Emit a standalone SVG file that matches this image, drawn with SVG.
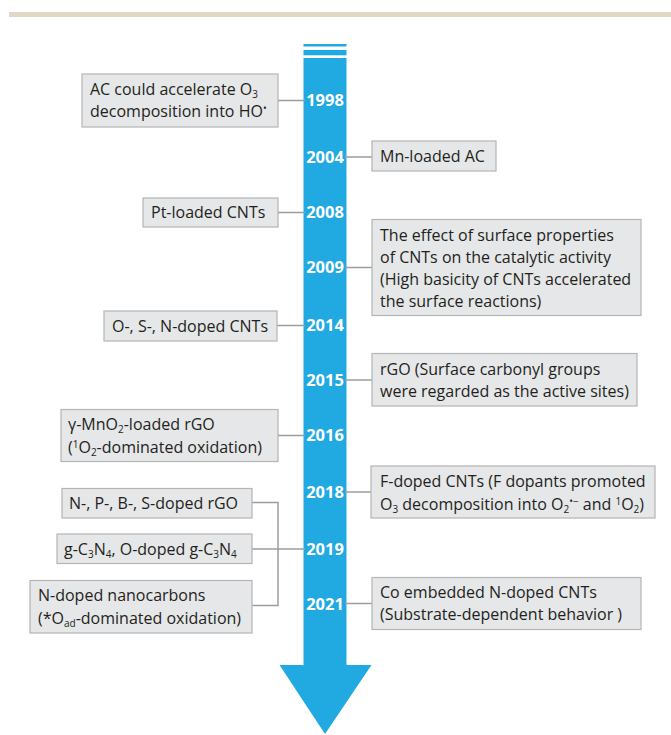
<svg xmlns="http://www.w3.org/2000/svg" width="671" height="735" viewBox="0 0 671 735">
<style>
.box{fill:#e6e7e8;stroke:#b5b5b5;stroke-width:1.2}
.t{font-family:"Open Sans","Noto Sans",sans-serif;font-size:16px;fill:#231f20}
.yr{font-family:"Open Sans","Noto Sans",sans-serif;font-size:16.5px;font-weight:bold;fill:#ffffff;text-anchor:middle}
.s{font-size:10px}
.cn{stroke:#9d9d9d;stroke-width:1.5;fill:none}
</style>
<rect x="9" y="12" width="662" height="5" fill="#e0d9c8"/>
<g id="timeline">
<rect x="303.5" y="44" width="43" height="2.5" fill="#21a9e1"/>
<rect x="303.5" y="50" width="43" height="5.3" fill="#21a9e1"/>
<polygon points="303.5,58 346.5,58 346.5,665 371.5,665 325,734 279.5,665 303.5,665" fill="#21a9e1"/>
<text class="yr" x="325" y="106">1998</text>
<text class="yr" x="325" y="163">2004</text>
<text class="yr" x="325" y="218">2008</text>
<text class="yr" x="325" y="273">2009</text>
<text class="yr" x="325" y="331">2014</text>
<text class="yr" x="325" y="386">2015</text>
<text class="yr" x="325" y="441">2016</text>
<text class="yr" x="325" y="498">2018</text>
<text class="yr" x="325" y="554.5">2019</text>
<text class="yr" x="325" y="610">2021</text>
</g>
<g id="connectors">
<line class="cn" x1="278" y1="100.5" x2="305" y2="100.5"/>
<line class="cn" x1="345" y1="157" x2="372" y2="157"/>
<line class="cn" x1="278" y1="212.5" x2="305" y2="212.5"/>
<line class="cn" x1="345" y1="267.5" x2="372" y2="267.5"/>
<line class="cn" x1="277" y1="325.5" x2="305" y2="325.5"/>
<line class="cn" x1="345" y1="380" x2="372" y2="380"/>
<line class="cn" x1="278" y1="435.5" x2="305" y2="435.5"/>
<line class="cn" x1="345" y1="492" x2="371" y2="492"/>
<polyline class="cn" points="252,502.5 278,502.5 278,605.5 252,605.5"/>
<line class="cn" x1="252" y1="549" x2="305" y2="549"/>
<line class="cn" x1="345" y1="603.5" x2="372" y2="603.5"/>
</g>
<g id="n1998">
<rect class="box" x="82" y="74" width="196" height="53"/>
<text class="t" x="90" y="94.5" textLength="168" lengthAdjust="spacingAndGlyphs">AC could accelerate O<tspan class="s" baseline-shift="-3">3</tspan></text>
<text class="t" x="90" y="117">decomposition into HO<tspan class="s" baseline-shift="5">•</tspan></text>
</g>
<g id="n2004">
<rect class="box" x="372" y="141" width="124" height="30"/>
<text class="t" x="380" y="162">Mn-loaded AC</text>
</g>
<g id="n2008">
<rect class="box" x="143" y="198" width="135" height="29"/>
<text class="t" x="151" y="218">Pt-loaded CNTs</text>
</g>
<g id="n2009">
<rect class="box" x="372" y="219.5" width="269" height="96"/>
<text class="t" x="380" y="241">The effect of surface properties</text>
<text class="t" x="380" y="263">of CNTs on the catalytic activity</text>
<text class="t" x="380" y="285">(High basicity of CNTs accelerated</text>
<text class="t" x="380" y="307">the surface reactions)</text>
</g>
<g id="n2014">
<rect class="box" x="104" y="311" width="173" height="30"/>
<text class="t" x="112" y="331.5">O-, S-, N-doped CNTs</text>
</g>
<g id="n2015">
<rect class="box" x="372" y="353.5" width="265" height="52.5"/>
<text class="t" x="380" y="374.5">rGO (Surface carbonyl groups</text>
<text class="t" x="380" y="397">were regarded as the active sites)</text>
</g>
<g id="n2016">
<rect class="box" x="61" y="409.5" width="217" height="52"/>
<text class="t" x="68" y="430">γ-MnO<tspan class="s" baseline-shift="-3">2</tspan>-loaded rGO</text>
<text class="t" x="68" y="452.5">(<tspan class="s" baseline-shift="5">1</tspan>O<tspan class="s" baseline-shift="-3">2</tspan>-dominated oxidation)</text>
</g>
<g id="n2018">
<rect class="box" x="371" y="466" width="284" height="52"/>
<text class="t" x="380" y="487">F-doped CNTs (F dopants promoted</text>
<text class="t" x="380" y="510">O<tspan class="s" baseline-shift="-3">3</tspan> decomposition into O<tspan class="s" baseline-shift="-3">2</tspan><tspan class="s" baseline-shift="5">•−</tspan> and <tspan class="s" baseline-shift="5">1</tspan>O<tspan class="s" baseline-shift="-3">2</tspan>)</text>
</g>
<g id="n2019a">
<rect class="box" x="62" y="488.5" width="190" height="29.5"/>
<text class="t" x="69" y="509">N-, P-, B-, S-doped rGO</text>
</g>
<g id="n2019b">
<rect class="box" x="57" y="534" width="195" height="29.5"/>
<text class="t" x="64" y="554.5">g-C<tspan class="s" baseline-shift="-3">3</tspan>N<tspan class="s" baseline-shift="-3">4</tspan>, O-doped g-C<tspan class="s" baseline-shift="-3">3</tspan>N<tspan class="s" baseline-shift="-3">4</tspan></text>
</g>
<g id="n2019c">
<rect class="box" x="30" y="580.5" width="222" height="52.5"/>
<text class="t" x="38" y="601">N-doped nanocarbons</text>
<text class="t" x="38" y="623.5">(*O<tspan class="s" baseline-shift="-3">ad</tspan>-dominated oxidation)</text>
</g>
<g id="n2021">
<rect class="box" x="372" y="577.5" width="269" height="52"/>
<text class="t" x="380" y="597.5">Co embedded N-doped CNTs</text>
<text class="t" x="380" y="619.5">(Substrate-dependent behavior )</text>
</g>
</svg>
